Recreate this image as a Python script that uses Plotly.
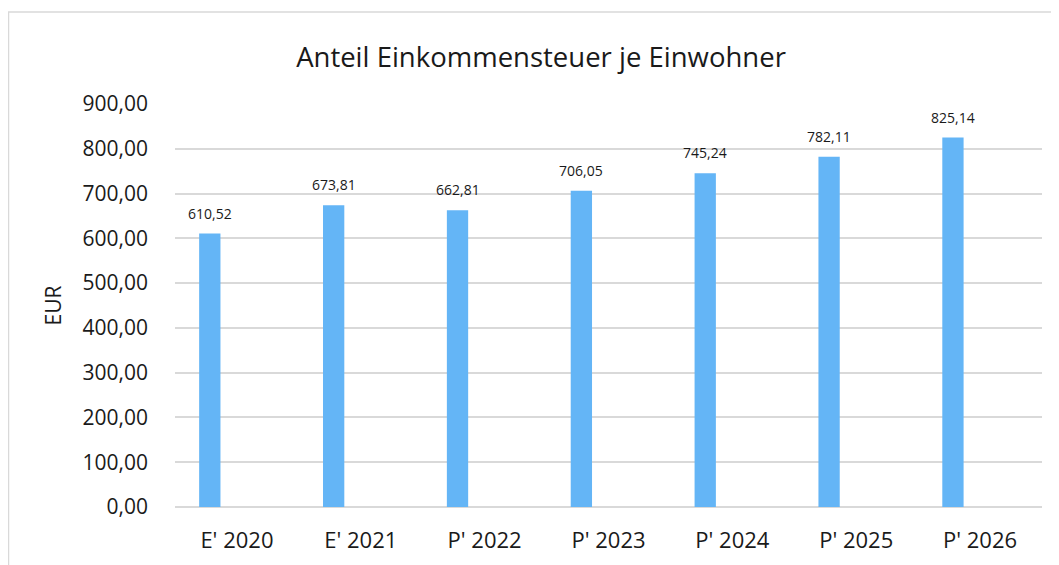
import plotly.graph_objects as go

# Data
categories = ["E' 2020", "E' 2021", "P' 2022", "P' 2023", "P' 2024", "P' 2025", "P' 2026"]
values = [610.52, 673.81, 662.81, 706.05, 745.24, 782.11, 825.14]
y_ticks = [0, 100, 200, 300, 400, 500, 600, 700, 800, 900]

_BAR = "#64b5f6"
_GRID = "#d9d9d9"
_TEXT = "#1a1a1a"
_FONT = "Open Sans"

# bar sits left of the category centre (second, empty series in the original)
_OFFSET = -0.305
_WIDTH = 0.172

# page body has an 8px margin, so the figure is drawn 8px smaller / shifted
W, H = 1051, 557
L, R, T, B = 167, 1034, 95.5, 499

fig = go.Figure(
    go.Bar(
        x=categories,
        y=values,
        offset=_OFFSET,
        width=_WIDTH,
        marker={"color": _BAR, "line": {"width": 0}},
        hoverinfo="x+y",
    )
)

annotations = [
    {
        "x": i + _OFFSET + _WIDTH / 2,
        "y": v,
        "xref": "x",
        "yref": "y",
        "text": f"{v:.2f}".replace(".", ","),
        "showarrow": False,
        "yanchor": "bottom",
        "yshift": 9,
        "font": {"size": 14, "color": _TEXT, "family": _FONT},
    }
    for i, v in enumerate(values)
]


def px_x(p):
    return (p - L) / (R - L)


def px_y(p):
    return (B - p) / (B - T)


# light frame around the chart (only top and left edges visible)
shapes = [
    {"type": "line", "xref": "paper", "yref": "paper",
     "x0": px_x(0), "x1": px_x(W + 5), "y0": px_y(3.5), "y1": px_y(3.5),
     "line": {"color": _GRID, "width": 1.5}},
    {"type": "line", "xref": "paper", "yref": "paper",
     "x0": px_x(0.5), "x1": px_x(0.5), "y0": px_y(3.5), "y1": px_y(H + 5),
     "line": {"color": _GRID, "width": 1.5}},
]

fig.update_layout(
    width=W,
    height=H,
    paper_bgcolor="white",
    plot_bgcolor="white",
    separators=",.",
    showlegend=False,
    font={"family": _FONT, "color": _TEXT},
    margin={"l": L, "r": W - R, "t": T, "b": H - B, "autoexpand": False},
    title={
        "text": "Anteil Einkommensteuer je Einwohner",
        "x": (533 - 0) / W,
        "xanchor": "center",
        "y": 1 - 49 / H,
        "yanchor": "middle",
        "font": {"size": 27.5, "color": _TEXT, "family": _FONT},
    },
    xaxis={
        "type": "category",
        "range": [-0.5, len(categories) - 0.5],
        "showgrid": False,
        "showline": False,
        "ticks": "",
        "tickfont": {"size": 22, "color": _TEXT},
        "ticklabelstandoff": 18,
    },
    yaxis={
        "range": [0, 900],
        "tickvals": y_ticks,
        "tickformat": ".2f",
        "showgrid": True,
        "gridcolor": _GRID,
        "gridwidth": 1.5,
        "zeroline": True,
        "zerolinecolor": _GRID,
        "zerolinewidth": 1.5,
        "showline": False,
        "ticks": "",
        "tickfont": {"size": 21, "color": _TEXT},
        "ticklabelstandoff": 26,
        "title": {"text": "EUR", "font": {"size": 21, "color": _TEXT}, "standoff": 15},
    },
    annotations=annotations,
    shapes=shapes,
)

fig.write_html("out.html")
